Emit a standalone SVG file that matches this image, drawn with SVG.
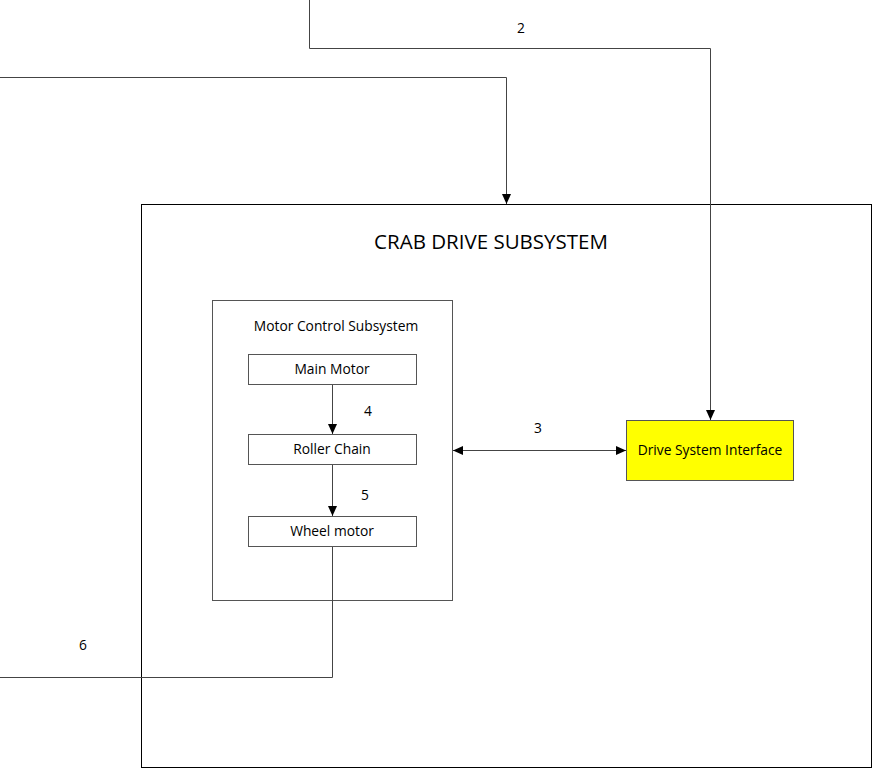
<svg xmlns="http://www.w3.org/2000/svg" width="873" height="781" viewBox="0 0 873 781">
<style>
.box{fill:#fff;stroke:#000;stroke-width:1}
.inner{fill:#fff;stroke:#555;stroke-width:1}
.conn{fill:none;stroke:#444;stroke-width:1}
text{font-family:"Open Sans","Noto Sans",sans-serif;font-size:13.8px;fill:#000;text-anchor:middle}
.title{font-size:20.5px}
</style>
<defs>
<marker id="arr" markerWidth="10" markerHeight="10" refX="10" refY="5" orient="auto-start-reverse" markerUnits="userSpaceOnUse">
<path d="M0,0.5 L10,5 L0,9.5 Z" fill="#000"/>
</marker>
</defs>
<rect width="873" height="781" fill="#fff"/>
<g id="crab-drive-subsystem">
<rect class="box" x="141.5" y="204.5" width="730" height="563"/>
<text class="title" x="491" y="249">CRAB DRIVE SUBSYSTEM</text>
</g>
<g id="motor-control-subsystem">
<rect class="inner" x="212.5" y="300.5" width="240" height="300"/>
<text x="336" y="331">Motor Control Subsystem</text>
</g>
<g id="main-motor">
<rect class="inner" x="248.5" y="354.5" width="168" height="30"/>
<text x="332" y="374">Main Motor</text>
</g>
<g id="roller-chain">
<rect class="inner" x="248.5" y="434.5" width="168" height="30"/>
<text x="332" y="454">Roller Chain</text>
</g>
<g id="wheel-motor">
<rect class="inner" x="248.5" y="516.5" width="168" height="30"/>
<text x="332" y="536">Wheel motor</text>
</g>
<g id="drive-system-interface">
<rect x="626.5" y="420.5" width="167" height="60" fill="#ffff00" stroke="#555"/>
<text x="710" y="455">Drive System Interface</text>
</g>
<g id="connectors">
<path class="conn" d="M0,77.5 H506.5 V204" marker-end="url(#arr)"/>
<path class="conn" d="M309.5,0 V48.5 H710.5 V420" marker-end="url(#arr)"/>
<path class="conn" d="M453,450.5 H626" marker-start="url(#arr)" marker-end="url(#arr)"/>
<path class="conn" d="M332.5,385 V434" marker-end="url(#arr)"/>
<path class="conn" d="M332.5,465 V516" marker-end="url(#arr)"/>
<path class="conn" d="M332.5,547 V677.5 H0"/>
<text x="521" y="33">2</text>
<text x="538" y="433">3</text>
<text x="368" y="416">4</text>
<text x="365" y="500">5</text>
<text x="83" y="650">6</text>
</g>
</svg>
